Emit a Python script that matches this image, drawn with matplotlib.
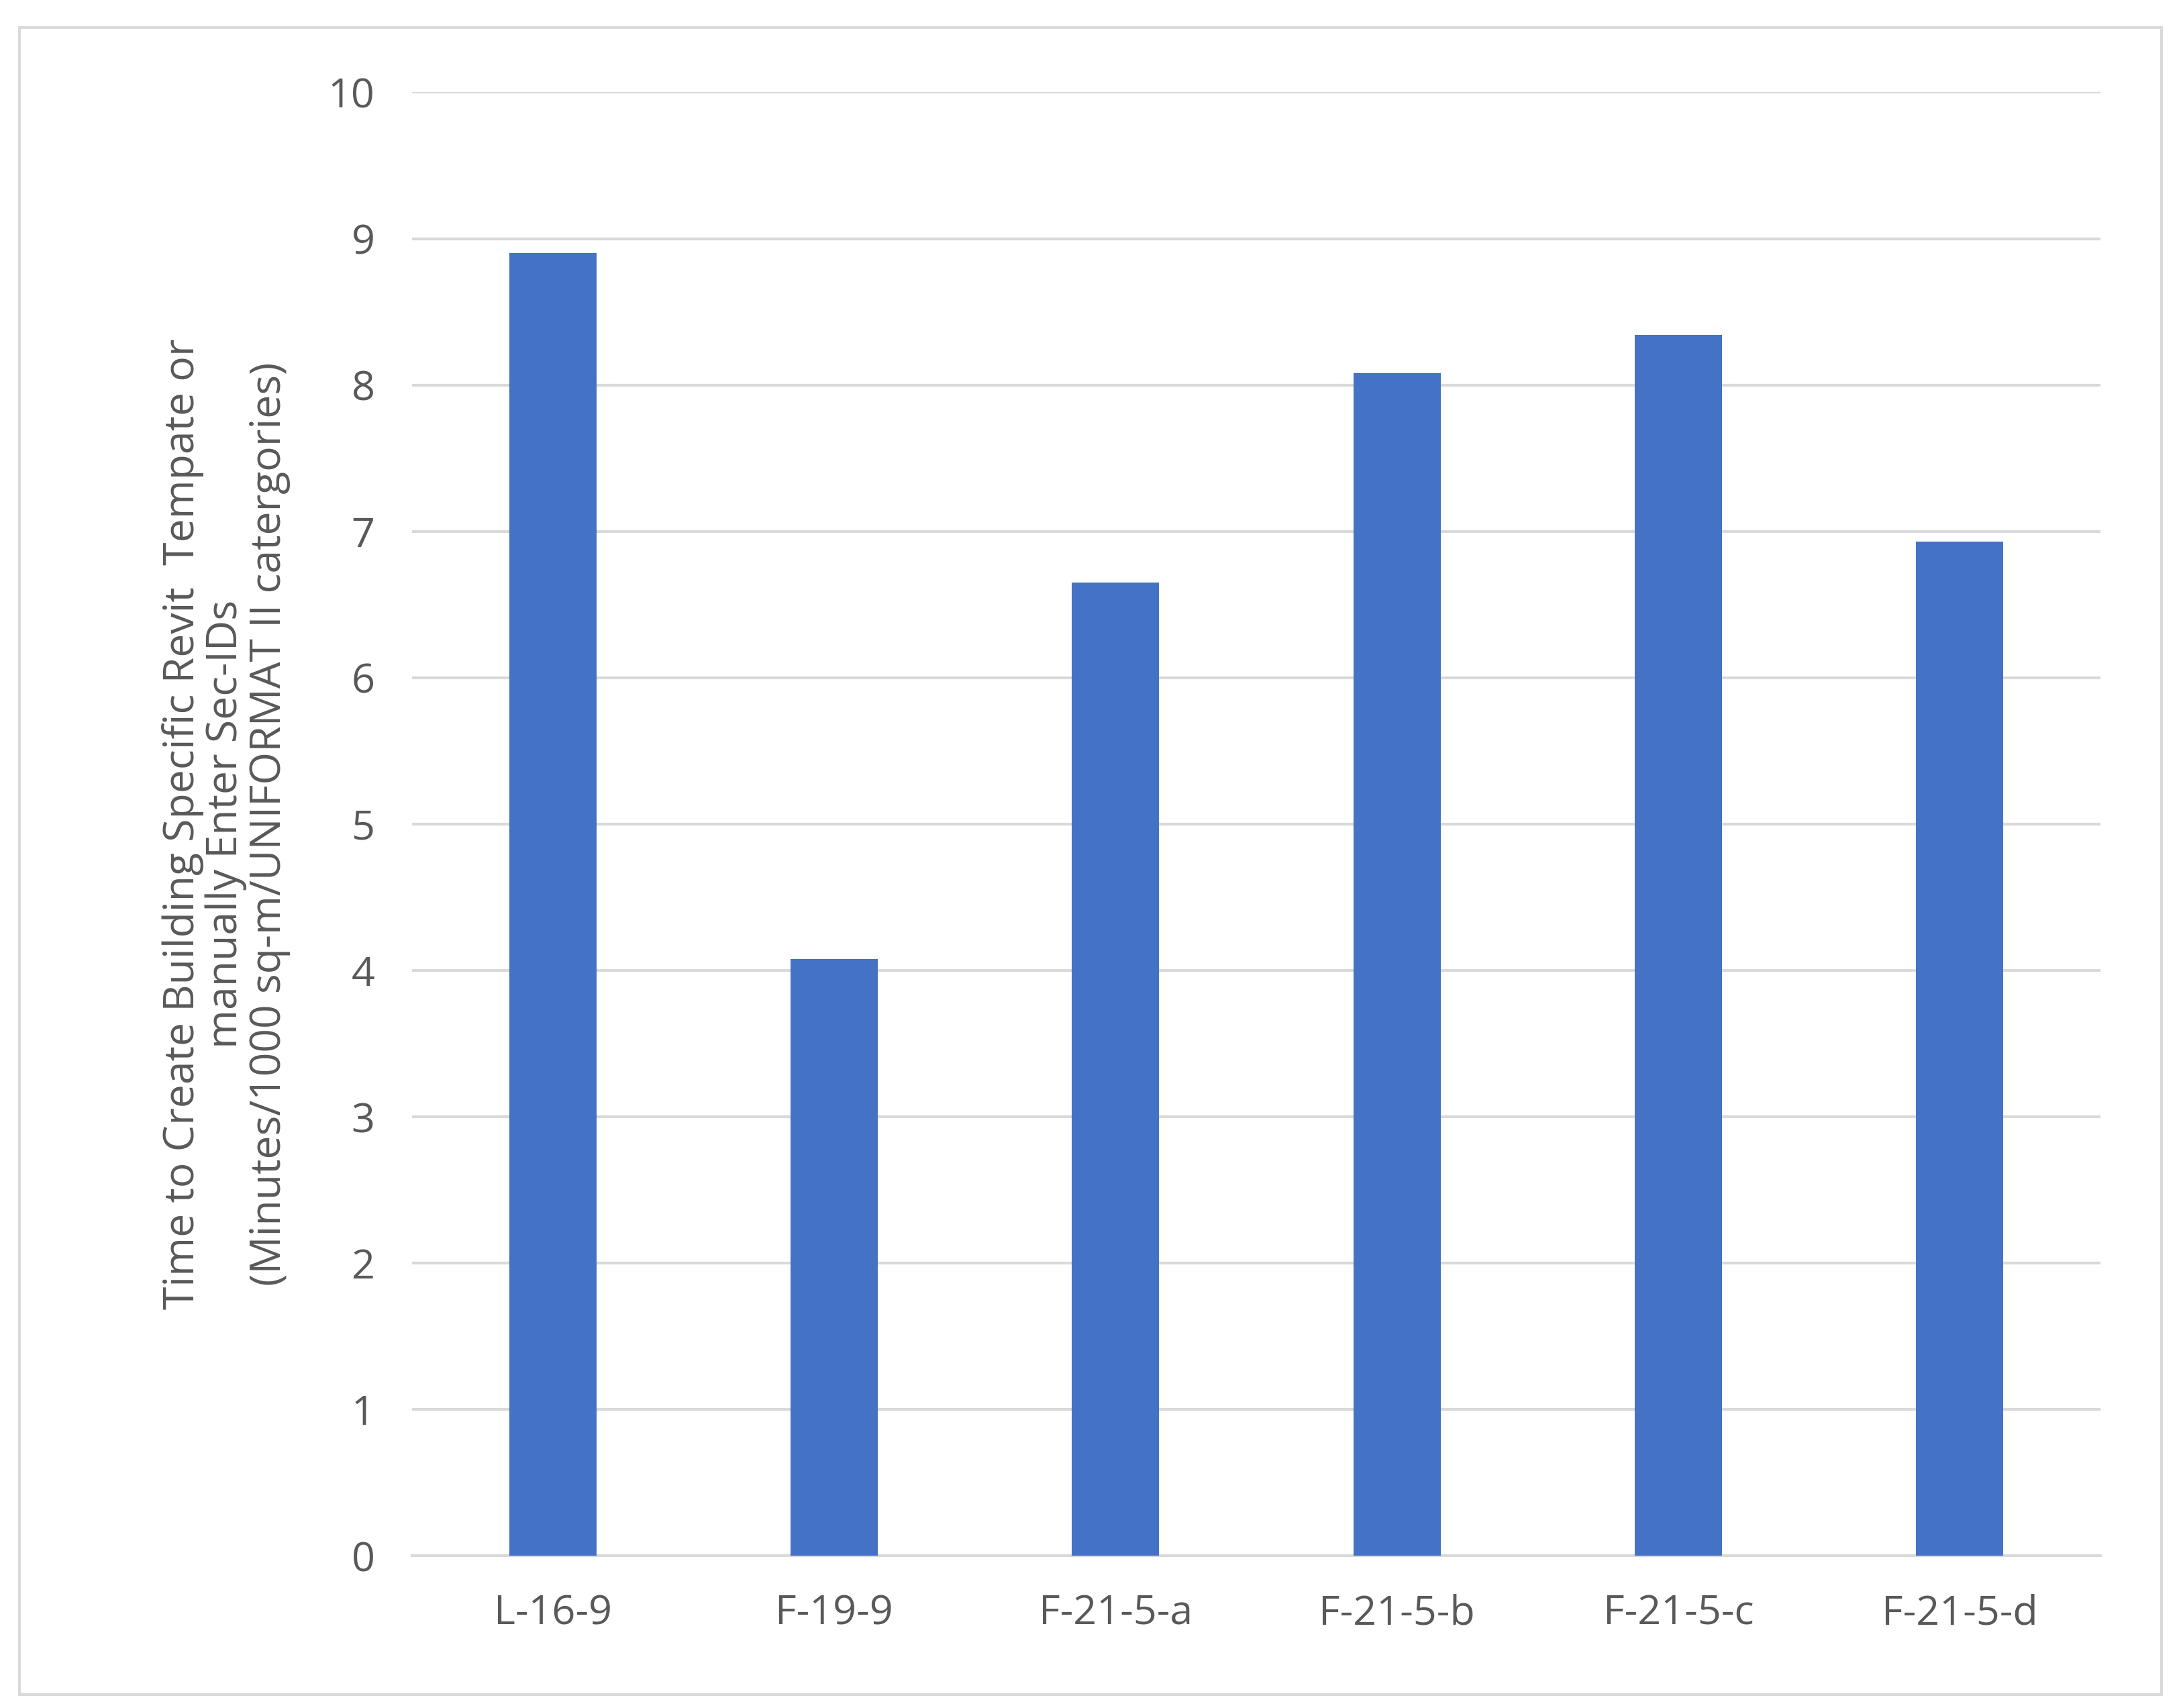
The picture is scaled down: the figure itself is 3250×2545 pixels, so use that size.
import matplotlib
matplotlib.use("Agg")
import matplotlib.pyplot as plt
from matplotlib.patches import Rectangle

categories = ["L-16-9", "F-19-9", "F-21-5-a", "F-21-5-b", "F-21-5-c", "F-21-5-d"]
values = [8.9, 4.08, 6.65, 8.08, 8.34, 6.93]
yticks = list(range(0, 11))

plt.rcParams['font.family'] = ['Open Sans', 'DejaVu Sans']
fig = plt.figure(figsize=(32.5, 25.45), dpi=100)
fig.patches.append(Rectangle((0.009, 0.008), 0.982, 0.976, transform=fig.transFigure,
                             fill=False, edgecolor="#D9D9D9", linewidth=3))
ax = fig.add_axes([0.189, 0.089, 0.774, 0.857])
x = range(len(categories))
ax.bar(x, values, width=0.31, color="#4472C4", zorder=3)
ax.set_ylim(0, 10)
ax.set_xlim(-0.5, len(categories) - 0.5)
ax.set_yticks(yticks)
ax.set_xticks(list(x))
ax.set_xticklabels(categories)
ax.grid(axis="y", color="#D9D9D9", linewidth=3, zorder=0)
for s in ["top", "right", "left"]:
    ax.spines[s].set_visible(False)
ax.spines["bottom"].set_color("#D9D9D9")
ax.spines["bottom"].set_linewidth(3)
ax.tick_params(length=0, labelsize=44, colors="#595959", pad=40)
ax.set_ylabel("Time to Create Building Specific Revit  Tempate or\nmanually Enter Sec-IDs\n(Minutes/1000 sq-m/UNIFORMAT II catergories)",
              fontsize=45, color="#595959", labelpad=40, linespacing=1.05)
fig.savefig("out.png", dpi=100)
